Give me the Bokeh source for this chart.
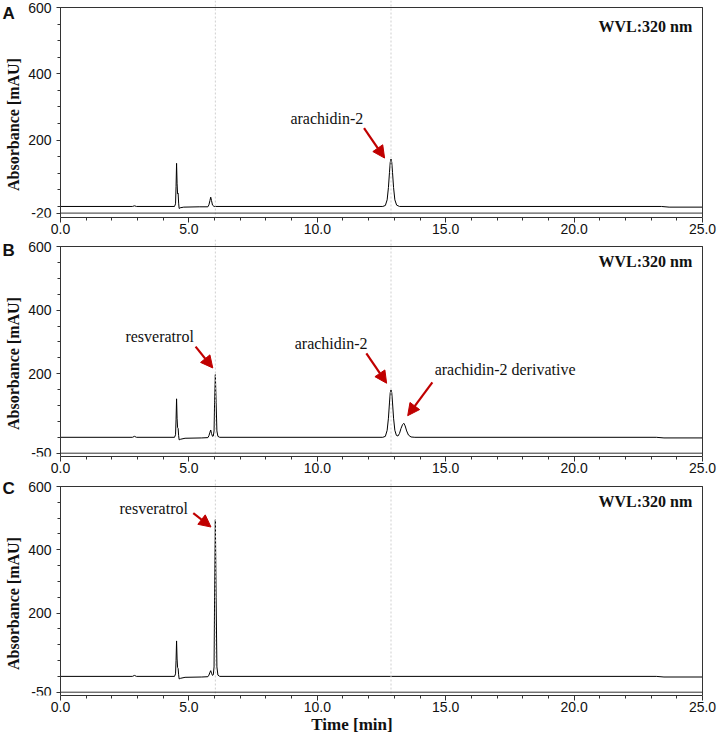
import math
from bokeh.plotting import figure
from bokeh.models import (ColumnDataSource, FixedTicker, Span, Arrow, NormalHead,
                          Label, Range1d, BoxAnnotation)
from bokeh.layouts import column
from bokeh.core.properties import value
from bokeh.embed import file_html
from bokeh.resources import INLINE

# ---------------- data ----------------
x_major = [0, 5, 10, 15, 20, 25]
x_tick_labels = ["0.0", "5.0", "10.0", "15.0", "20.0", "25.0"]
x_minor = [1, 2, 3, 4, 6, 7, 8, 9, 11, 12, 13, 14, 16, 17, 18, 19, 21, 22, 23, 24]

guide_times = [6.03, 12.87]   # retention times of resveratrol / arachidin-2

# Panel A
tA = [0.0, 2.80, 2.88, 2.96,
      4.44, 4.48, 4.50, 4.52, 4.54, 4.56, 4.58, 4.60, 4.62, 4.66, 4.80,
      5.40, 5.74, 5.78, 5.82, 5.85, 5.88, 5.92, 5.98,
      12.55, 12.65, 12.72, 12.77, 12.81, 12.84, 12.87, 12.90, 12.93, 12.97, 13.02, 13.09, 13.20,
      23.40, 23.70, 25.0]
yA = [0, 0, 2, 0,
      0, 8, 60, 130, 70, 38, 40, 10, -6, -4, -2,
      -1, -1, 5, 18, 28, 18, 4, 0,
      0, 3, 20, 57, 102, 133, 143, 133, 102, 57, 20, 4, 0,
      0, -2, -2]

# Panel B
tB = [0.0, 2.80, 2.88, 2.96,
      4.44, 4.48, 4.50, 4.52, 4.54, 4.56, 4.58, 4.60, 4.62, 4.68, 4.85,
      5.50, 5.74, 5.78, 5.82, 5.85, 5.88, 5.92,
      5.95, 5.98, 6.00, 6.03, 6.06, 6.09, 6.13, 6.20,
      12.55, 12.65, 12.72, 12.77, 12.81, 12.84, 12.87, 12.90, 12.93, 12.97, 13.02, 13.08,
      13.14, 13.20, 13.26, 13.32, 13.37, 13.42, 13.48, 13.55, 13.65, 13.80,
      23.20, 23.50, 25.0]
yB = [0, 0, 3, 0,
      0, 8, 55, 121, 60, 30, 28, 5, -8, -6, -3,
      -2, -1, 5, 16, 23, 12, 3,
      4, 20, 110, 197, 110, 20, 3, 0,
      0, 3, 22, 60, 108, 140, 149, 140, 108, 60, 22, 6,
      4, 12, 28, 40, 44, 36, 20, 7, 1, 0,
      0, -2, -2]

# Panel C
tC = [0.0, 2.80, 2.88, 2.96,
      4.44, 4.48, 4.50, 4.52, 4.54, 4.56, 4.58, 4.60, 4.62, 4.68, 4.85,
      5.50, 5.74, 5.78, 5.82, 5.85, 5.88, 5.92,
      5.95, 5.98, 6.00, 6.03, 6.06, 6.09, 6.13, 6.20,
      23.20, 23.50, 25.0]
yC = [0, 0, 3, 0,
      0, 8, 50, 112, 55, 28, 25, 5, -8, -6, -3,
      -2, -1, 4, 13, 18, 10, 3,
      5, 30, 250, 495, 250, 30, 4, 0,
      0, -2, -2]

yA_ticks = [-20, 200, 400, 600]
yBC_ticks = [-50, 200, 400, 600]
y_minor = [0, 50, 100, 150, 250, 300, 350, 450, 500, 550]

# annotations: text, text x, text y, arrow x0, y0, x1, y1
annA = [("arachidin-2", 10.37, 265, 11.82, 236, 12.62, 146)]
annB = [("resveratrol", 3.86, 317, 5.26, 285, 5.93, 218),
        ("arachidin-2", 10.54, 294, 11.91, 264, 12.70, 170)]
annB_deriv = ("arachidin-2 derivative", 14.57, 212, 14.48, 173, 13.52, 68)
annC = [("resveratrol", 3.63, 530, 5.17, 516, 5.86, 472)]

RED = "#C00000"
SERIF = "Liberation Serif"
SANS = "Liberation Sans"
AX = "#333333"

WIDTH = 717
PLOT_L, PLOT_R = 60, 702          # screen x of 0.0 and 25.0 min
PPX = (PLOT_R - PLOT_L) / 25.0
X0 = -PLOT_L / PPX
X1 = 25 + 1 / PPX
BR = WIDTH - (PLOT_R + 1)
TOP_PX = 7                        # space above the 600 line inside each frame


def panel(letter, t, y, yticks, height, bbot, ext_px, wvl_px, letter_px,
          anns, xlabel=None, deriv=None):
    frame_h = height - bbot
    ymin, ymax = yticks[0], yticks[-1]
    ppu = (frame_h - TOP_PX - ext_px) / (ymax - ymin)
    y0 = ymin - ext_px / ppu
    y1 = ymax + TOP_PX / ppu

    p = figure(width=WIDTH, height=height, output_backend="svg",
               toolbar_location=None, x_range=Range1d(X0, X1),
               y_range=Range1d(y0, y1),
               min_border_left=0, min_border_right=BR,
               min_border_top=0, min_border_bottom=bbot)
    p.xgrid.visible = False
    p.ygrid.visible = False
    p.outline_line_color = None
    p.background_fill_color = "white"
    p.border_fill_color = "white"

    for gt in guide_times:
        p.add_layout(Span(location=gt, dimension="height", line_color="#cfcfcf",
                          line_dash="2 2", line_width=1))
    # plot box (top, right, -min line) and the left axis line down to the x axis
    p.add_layout(BoxAnnotation(left=0, right=25, bottom=ymin, top=ymax,
                               fill_color=None, fill_alpha=0,
                               line_color=AX, line_width=1, line_alpha=1))
    p.add_layout(BoxAnnotation(left=0, right=25, bottom=y0, top=ymax,
                               fill_color=None, fill_alpha=0,
                               line_color=AX, line_width=1, line_alpha=1))

    p.line(t, y, line_color="black", line_width=1)

    xa = p.xaxis[0]
    xa.bounds = (0, 25)
    xa.ticker = FixedTicker(ticks=x_major, minor_ticks=x_minor)
    xa.major_label_overrides = {float(k): v for k, v in zip(x_major, x_tick_labels)}
    xa.major_label_text_font = SANS
    xa.major_label_text_font_size = "14px"
    xa.major_label_text_color = "#111111"
    xa.major_label_standoff = 1
    xa.major_tick_out = 5
    xa.major_tick_in = 0
    xa.minor_tick_out = 3
    xa.minor_tick_in = 0
    xa.axis_line_color = AX
    xa.major_tick_line_color = AX
    xa.minor_tick_line_color = AX
    if xlabel:
        xa.axis_label = xlabel
        xa.axis_label_text_font = SERIF
        xa.axis_label_text_font_style = "bold"
        xa.axis_label_text_font_size = "17px"
        xa.axis_label_text_color = "#111111"
        xa.axis_label_standoff = 0

    ya = p.yaxis[0]
    ya.fixed_location = 0
    ya.bounds = (y0, ymax)
    ya.ticker = FixedTicker(ticks=yticks, minor_ticks=y_minor)
    ya.major_label_overrides = {float(k): str(k) for k in yticks}
    ya.major_label_text_font = SANS
    ya.major_label_text_font_size = "14px"
    ya.major_label_text_color = "#111111"
    ya.major_label_standoff = 5
    ya.major_tick_out = 4
    ya.major_tick_in = 0
    ya.minor_tick_out = 3
    ya.minor_tick_in = 0
    ya.axis_line_color = None
    ya.major_tick_line_color = AX
    ya.minor_tick_line_color = AX

    # y-axis title (placed a little below the axis centre, as in the original)
    p.add_layout(Label(x=X0 + 13 / PPX, y=ymax - 117 / ppu, text="Absorbance [mAU]",
                       angle=math.pi / 2, text_font=SERIF, text_font_style="bold",
                       text_font_size="16px", text_align="center",
                       text_baseline="middle", text_color="#111111"))

    # annotations
    items = list(anns)
    if items:
        src = ColumnDataSource(dict(x=[a[1] for a in items], y=[a[2] for a in items],
                                    text=[a[0] for a in items]))
        p.text(x="x", y="y", text="text", source=src, text_font=value(SERIF),
               text_font_size="16px", text_align="center", text_baseline="middle",
               text_color="#111111")
    if deriv:
        p.text(x=[deriv[1]], y=[deriv[2]], text=[deriv[0]], text_font=value(SERIF),
               text_font_size="16px", text_align="left", text_baseline="middle",
               text_color="#111111")
        items = items + [deriv]
    for a in items:
        p.add_layout(Arrow(end=NormalHead(size=12, fill_color=RED, line_color=RED),
                           x_start=a[3], y_start=a[4], x_end=a[5], y_end=a[6],
                           line_color=RED, line_width=2.2))

    p.add_layout(Label(x=24.6, y=ymax - wvl_px / ppu, text="WVL:320 nm",
                       text_font=SERIF, text_font_style="bold", text_font_size="16px",
                       text_align="right", text_baseline="middle", text_color="#111111"))
    p.add_layout(Label(x=X0 + 2 / PPX, y=ymax - letter_px / ppu, text=letter,
                       text_font=SANS, text_font_style="bold", text_font_size="17px",
                       text_align="left", text_baseline="middle", text_color="#111111"))
    return p


pA = panel("A", tA, yA, yA_ticks, 239, 22, 4.4, 19, 5.5, annA)
pB = panel("B", tB, yB, yBC_ticks, 240, 23, 3.3, 15, 4, annB, deriv=annB_deriv)
pC = panel("C", tC, yC, yBC_ticks, 258, 42, 3.3, 15, 2, annC, xlabel="Time [min]")

layout = column(pA, pB, pC, spacing=0)
open("out.html", "w").write(file_html(layout, INLINE))
